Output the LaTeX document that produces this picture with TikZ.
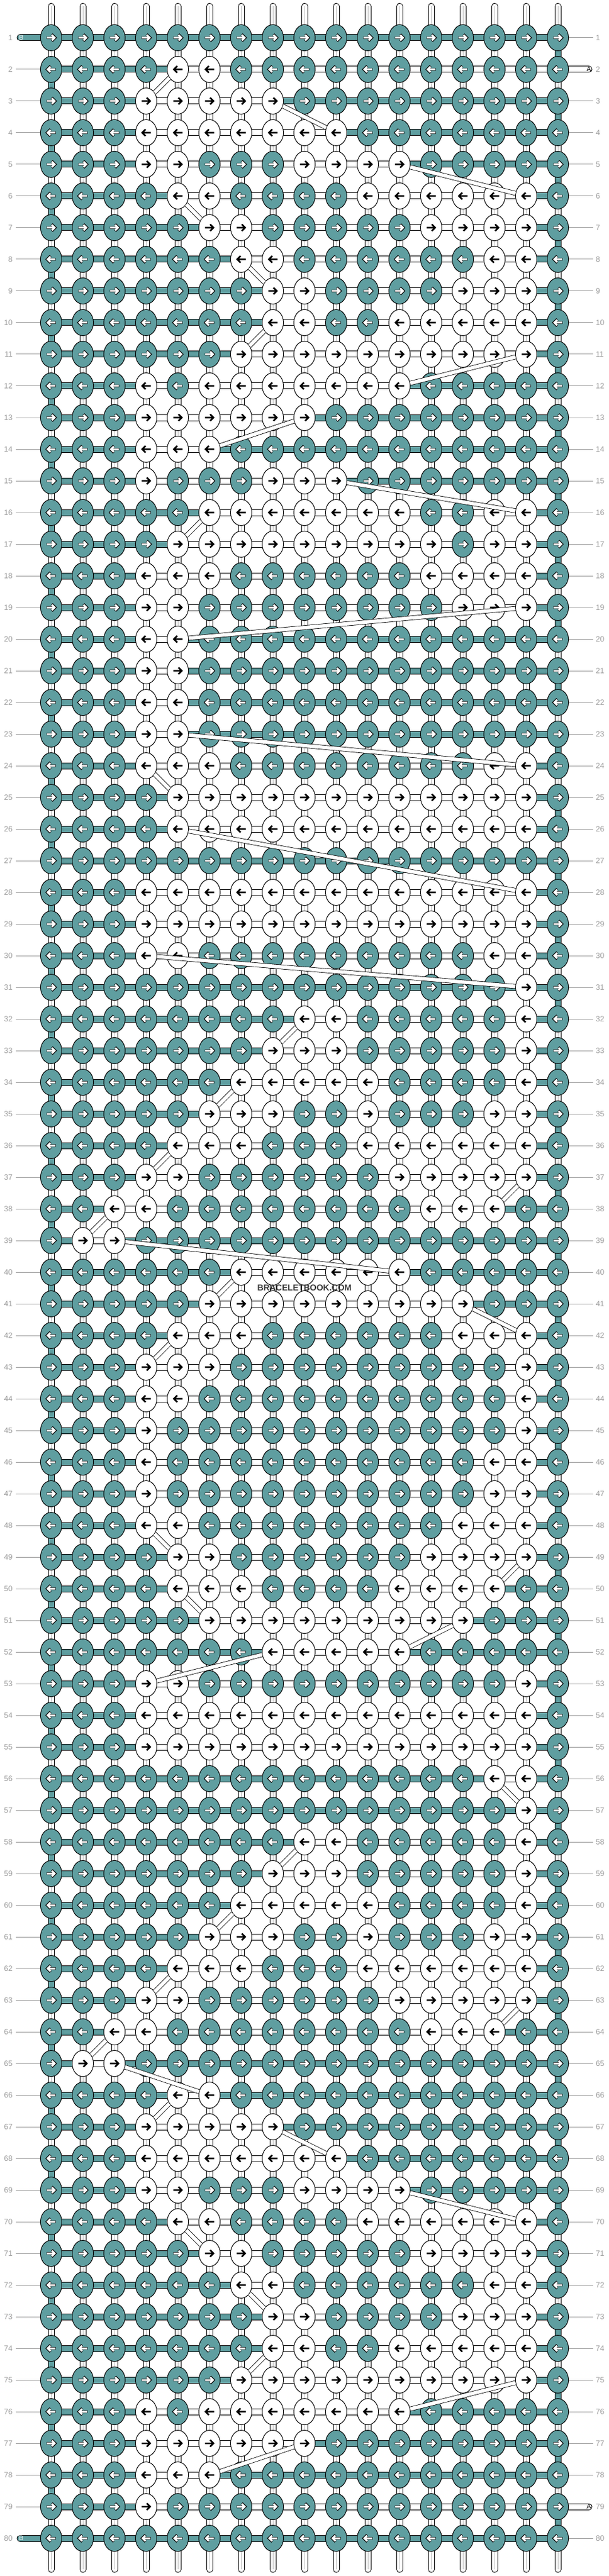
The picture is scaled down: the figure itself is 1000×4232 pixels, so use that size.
\documentclass[tikz,border=0pt]{standalone}
\usepackage{fontspec}
\setmainfont{Liberation Sans}
\usepackage{xstring}
\usepackage{etoolbox}
\usetikzlibrary{shapes.geometric}
\pgfdeclarelayer{paper}
\pgfdeclarelayer{bars}
\pgfdeclarelayer{links}
\pgfsetlayers{paper,bars,main,links}

\definecolor{knotteal}{HTML}{5F9EA0}
\definecolor{labelgray}{HTML}{9C9C9C}
\definecolor{midgray}{HTML}{BDBDBD}

\tikzset{
  knot/.style={ellipse, minimum width=17.5pt, minimum height=21.5pt, inner sep=0pt},
  knotT/.style={draw=black, line width=0.5pt, fill=knotteal},
  knotW/.style={draw=black, line width=0.5pt, fill=white},
  hbarT/.style={double=knotteal, double distance=4.5pt, line width=0.5pt},
  hbarW/.style={double=white, double distance=4.5pt, line width=0.5pt},
  vmid/.style={draw=midgray, line width=0.5pt},
  link/.style={double=white, double distance=3pt, line width=0.4pt},
  arrowK/.style={line width=1.3pt, line join=miter},
  arrowO/.style={line width=2.2pt, line join=miter},
  arrowI/.style={white, line width=1.5pt, line join=miter},
  rowline/.style={draw=labelgray, line width=0.5pt},
  rownum/.style={text=labelgray, font=\fontsize{6.3}{7}\selectfont, inner sep=0pt},
  endtag/.style={font=\fontsize{5.4}{6}\selectfont, inner sep=0pt},
  wmark/.style={text=black!78, font=\bfseries\fontsize{7}{8}\selectfont, inner sep=0pt}
}

% knot outline and arrow pieces (relative to a knot centre)
\def\kn{ellipse [x radius=8.75pt,y radius=10.75pt]}
\def\arrR{++(-7.5,0) -- ++(14,0) ++(-5.5,-5.5) -- ++(5.5,5.5) -- ++(-5.5,5.5)}
\def\arrL{++(7.5,0) -- ++(-14,0) ++(5.5,-5.5) -- ++(-5.5,5.5) -- ++(5.5,5.5)}
\def\arrRin{++(-6.8,0) -- ++(12.5,0) ++(-4.6,-4.6) -- ++(4.6,4.6) -- ++(-4.6,4.6)}
\def\arrLin{++(6.8,0) -- ++(-12.5,0) ++(4.6,-4.6) -- ++(-4.6,4.6) -- ++(4.6,4.6)}

% one row per line, 1 = white knot, 0 = teal knot
\def\knotrows{%
00000000000000000,%
00001100000000000,%
00011111000000000,%
00011111110000000,%
00011000111100000,%
00001100001111110,%
00000110000011110,%
00000011000000110,%
00000001100001110,%
00000001100111110,%
00000011111111110,%
00010111111100000,%
00011111100000000,%
00011100000000000,%
00010001110000000,%
00000111111100110,%
00001111111110110,%
00011100000011110,%
00011000000001110,%
00011000000000000,%
00011000000000000,%
00011000000000000,%
00011000000000000,%
00011100000000110,%
00001111111111110,%
00001111111111110,%
00000000000000000,%
00011111111111110,%
00011111111111110,%
00011000000000110,%
00000000000000010,%
00000000110000010,%
00000001110000010,%
00000011111000010,%
00000111001000110,%
00001110001111110,%
00011000000111110,%
00110000000011100,%
01100000000000000,%
00000011111100000,%
00000111111111000,%
00001110000001110,%
00011100000000010,%
00011000000000010,%
00010000000000010,%
00010000000000110,%
00010000000000110,%
00011000000001110,%
00001100000011110,%
00001110000111100,%
00000111111111000,%
00000001111100000,%
00011000000000010,%
00011111111111110,%
00011111111111110,%
00000000000000110,%
00000000000000010,%
00000000110000010,%
00000001110000010,%
00000011111000010,%
00000111001000110,%
00001110001111110,%
00011000000111110,%
00110000000011100,%
01100000000000000,%
00001100000000000,%
00011111000000000,%
00011111110000000,%
00011000111100000,%
00001100001111110,%
00000110000011110,%
00000011000000110,%
00000001100001110,%
00000001100111110,%
00000011111111110,%
00010111111100000,%
00011111100000000,%
00011100000000000,%
00010000000000000,%
00000000000000000}

\begin{document}
\begin{tikzpicture}[x=0.5pt,y=-0.5pt]
  \useasboundingbox (0,0) rectangle (1000,4232);
  \begin{pgfonlayer}{paper}
    \fill[white] (0,0) rectangle (1000,4232);
  \end{pgfonlayer}
  \xdef\prevEnd{0}\xdef\prevRow{0}
  %
  \foreach \pat [count=\r] in \knotrows {
    \pgfmathtruncatemacro{\y}{10+52*\r}
    \ifodd\r \let\arr\arrR \let\arrin\arrRin \else \let\arr\arrL \let\arrin\arrLin \fi
    \gdef\rowT{}\gdef\rowW{}\gdef\arrK{}\gdef\arrO{}\gdef\arrI{}
    \gdef\hT{}\gdef\hW{}\gdef\vW{}\gdef\vT{}
    \xdef\firstW{0}\xdef\lastW{0}
    % knots
    \foreach \c in {1,...,17} {
      \StrChar{\pat}{\c}[\bit]
      \pgfmathtruncatemacro{\x}{32+52*\c}
      \node[knot] (k\r-\c) at (\x,\y) {};
      \ifnum\bit=1
        \xappto\rowW{(k\r-\c.center) \noexpand\kn\space}
        \xappto\arrK{(k\r-\c.center) \arr\space}
        \ifnum\firstW=0 \xdef\firstW{\c}\fi
        \xdef\lastW{\c}
      \else
        \xappto\rowT{(k\r-\c.center) \noexpand\kn\space}
        \xappto\arrO{(k\r-\c.center) \arr\space}
        \xappto\arrI{(k\r-\c.center) \arrin\space}
      \fi
    }
    \ifnum\r=2 \xdef\lastW{17}\fi
    \ifnum\r=79 \xdef\lastW{17}\fi
    % row thread
    \foreach \c in {1,...,16} {
      \pgfmathtruncatemacro{\cn}{\c+1}
      \pgfmathtruncatemacro{\inspan}{(\c>=\firstW)&&(\cn<=\lastW)}
      \ifnum\inspan=1
        \xappto\hW{(k\r-\c.center) -- (k\r-\cn.center) }
      \else
        \xappto\hT{(k\r-\c.center) -- (k\r-\cn.center) }
      \fi
    }
    % strings from the row above
    \ifnum\r>1
      \pgfmathtruncatemacro{\rp}{\r-1}
      \ifodd\rp \def\tcol{17}\else \def\tcol{1}\fi
      \foreach \c in {1,...,17} {
        \ifnum\c=\tcol
          \xappto\vT{(k\rp-\c.center) -- (k\r-\c.center) }
        \else
          \xappto\vW{(k\rp-\c.center) -- (k\r-\c.center) }
        \fi
      }
    \fi
    \begin{pgfonlayer}{bars}
      \draw[hbarT] \hT;
      \draw[hbarW] \hW;
      \draw[hbarT] \vT;
      \draw[hbarW] \vW;
      \draw[vmid] \vW;
    \end{pgfonlayer}
    \path[knotT] \rowT;
    \path[knotW] \rowW;
    \draw[arrowK] \arrK;
    \draw[arrowO] \arrO;
    \draw[arrowI] \arrI;
    % jumps of thread A
    \ifnum\firstW>0
      \ifodd\r \xdef\aStart{\firstW}\xdef\aEnd{\lastW}\else \xdef\aStart{\lastW}\xdef\aEnd{\firstW}\fi
      \ifnum\prevEnd>0
        \ifnum\prevEnd=\aStart\else
          \begin{pgfonlayer}{links}
            \draw[link] (k\prevRow-\prevEnd) -- (k\r-\aStart);
          \end{pgfonlayer}
        \fi
      \fi
      \xdef\prevEnd{\aEnd}\xdef\prevRow{\r}
    \fi
    % row numbers
    \node[rownum, anchor=east] (nl\r) at (21,\y) {\r};
    \node[rownum, anchor=west] (nr\r) at (978,\y) {\r};
    \ifnum\r=1 \else\ifnum\r=80 \else
      \draw[rowline] ([xshift=2.5pt]nl\r.east) -- (k\r-1.west);
    \fi\fi
    \ifnum\r=2 \else\ifnum\r=79 \else
      \draw[rowline] (k\r-17.east) -- ([xshift=-2pt]nr\r.west);
    \fi\fi
  }
  %
  % loose ends of the strings
  \begin{pgfonlayer}{bars}
    \foreach \c in {1,...,17} {
      \pgfmathtruncatemacro{\x}{32+52*\c}
      \coordinate (top\c) at (\x,10.5);
      \coordinate (bot\c) at (\x,4221);
      \draw[hbarW, line cap=round] (top\c) -- (k1-\c.center);
      \draw[vmid] (top\c) -- (k1-\c.center);
      \draw[hbarW, line cap=round] (k80-\c.center) -- (bot\c);
      \draw[vmid] (k80-\c.center) -- (bot\c);
    }
    \coordinate (tagB1) at (33,62);
    \coordinate (tagB80) at (33,4170);
    \coordinate (tagA2) at (967,114);
    \coordinate (tagA79) at (967,4118);
    \draw[hbarT, line cap=round] (k1-1.center) -- (tagB1);
    \draw[hbarT, line cap=round] (k80-1.center) -- (tagB80);
    \draw[hbarW, line cap=round] (k2-17.center) -- (tagA2);
    \draw[hbarW, line cap=round] (k79-17.center) -- (tagA79);
  \end{pgfonlayer}
  \node[endtag, text=white] at ([xshift=1pt]tagB1) {B};
  \node[endtag, text=white] at ([xshift=1pt]tagB80) {B};
  \node[endtag] at (tagA2) {A};
  \node[endtag] at (tagA79) {A};
  %
  \begin{pgfonlayer}{links}
    \node[wmark] (mark) at (500,2116) {BRACELETBOOK.COM};
  \end{pgfonlayer}
\end{tikzpicture}
\end{document}
